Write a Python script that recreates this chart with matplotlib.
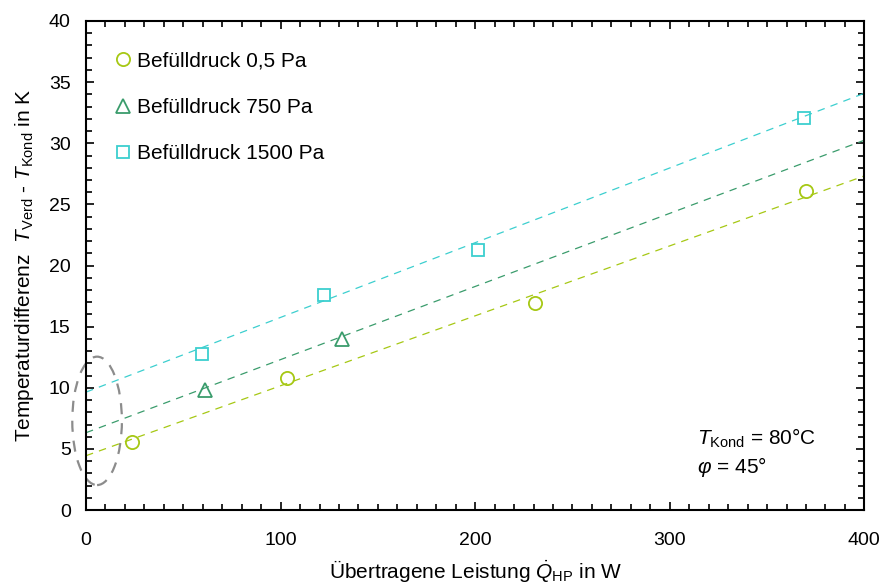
import numpy as np
import matplotlib.pyplot as plt
from matplotlib.patches import Ellipse
from matplotlib.ticker import MultipleLocator

plt.rcParams["font.family"] = ["Liberation Sans", "DejaVu Sans"]
plt.rcParams["mathtext.fontset"] = "custom"
plt.rcParams["mathtext.rm"] = "Liberation Sans"
plt.rcParams["mathtext.it"] = "Liberation Sans:italic"
plt.rcParams["font.size"] = 15

q_05 = [23.6, 103.3, 230.8, 370.2]
dt_05 = [5.6, 10.8, 16.9, 26.1]
q_750 = [61.2, 131.6]
dt_750 = [9.8, 14.0]
q_1500 = [59.6, 122.4, 201.5, 369.2]
dt_1500 = [12.8, 17.6, 21.3, 32.1]

# Trendlinien (Achsenabschnitt, Steigung)
fit_05 = (4.45, 0.0572)
fit_750 = (6.33, 0.0598)
fit_1500 = (9.65, 0.0611)

labels = ["Befülldruck 0,5 Pa", "Befülldruck 750 Pa", "Befülldruck 1500 Pa"]
colors = ["#a6c814", "#3a9c6c", "#3ccfcf"]
markers = ["o", "^", "s"]

fig, ax = plt.subplots(figsize=(8.82, 5.83), dpi=100)
fig.subplots_adjust(left=0.0975, right=0.98, top=0.964, bottom=0.125)

xx = np.array([0, 400])
series = [(q_05, dt_05, fit_05), (q_750, dt_750, fit_750), (q_1500, dt_1500, fit_1500)]
for (x, y, fit), lab, c, m in zip(series, labels, colors, markers):
    ax.plot(xx, fit[0] + fit[1] * xx, "--", color=c, lw=0.9, dashes=(6, 5))
    ax.plot(x, y, m, mfc="none", mec=c, mew=1.3, ms=9.5 if m != "s" else 8.5,
            ls="none", label=lab)

# gestrichelte Ellipse um die Achsenabschnitte
ell = Ellipse((5.7, 7.3), 25.5, 10.5, fill=False, ls=(0, (5, 4)), lw=1.6,
              ec="#8c8c8c", clip_on=False)
ax.add_patch(ell)

ax.set_xlim(0, 400)
ax.set_ylim(0, 40)
ax.xaxis.set_major_locator(MultipleLocator(100))
ax.xaxis.set_minor_locator(MultipleLocator(10))
ax.yaxis.set_major_locator(MultipleLocator(5))
ax.yaxis.set_minor_locator(MultipleLocator(1))
ax.tick_params(which="both", direction="in", top=True, right=True, width=1.2,
               labelsize=14)
ax.tick_params(which="major", length=6)
ax.tick_params(which="minor", length=4)
ax.tick_params(axis="x", which="major", pad=16)
ax.tick_params(axis="y", which="major", pad=11)
for s in ax.spines.values():
    s.set_linewidth(1.5)

ax.set_xlabel(r"Übertragene Leistung $\dot{Q}_{\rm HP}$ in W", labelpad=6)
ax.set_ylabel(r"Temperaturdifferenz  $T_{\rm Verd}$ - $T_{\rm Kond}$ in K", labelpad=9)

ax.text(0.785, 0.147, r"$T_{\rm Kond}$ = 80°C", transform=ax.transAxes, va="center")
ax.text(0.785, 0.088, r"$\varphi$ = 45°", transform=ax.transAxes, va="center")

ax.legend(loc="upper left", frameon=False, handletextpad=0.1, labelspacing=1.32,
          handlelength=1.2, borderaxespad=0, borderpad=0,
          bbox_to_anchor=(0.031, 0.938))

plt.savefig("out.png", dpi=100)
